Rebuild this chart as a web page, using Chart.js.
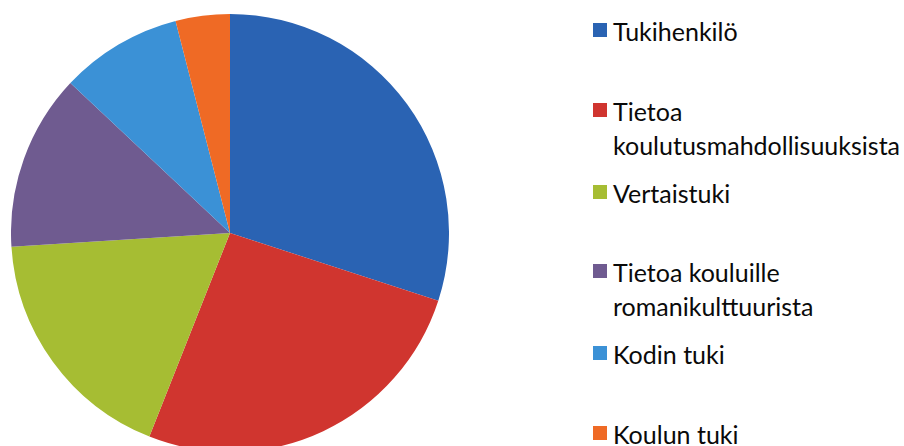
<!DOCTYPE html>
<html>
<head>
<meta charset="utf-8">
<script src="https://cdn.jsdelivr.net/npm/chart.js@4/dist/chart.umd.min.js"></script>
<style>
  html, body { margin: 0; padding: 0; background: #fff; overflow: hidden; }
  body { width: 904px; height: 446px; position: relative; font-family: Lato, "Open Sans", sans-serif; }
  #pie-wrap { position: absolute; left: 11px; top: 14px; width: 438px; height: 438px; }
  #legend { position: absolute; left: 593px; top: 0; }
  .item { position: absolute; left: 0; white-space: nowrap; }
  .box { position: absolute; left: 0; width: 14px; height: 14px; }
  .txt { position: absolute; left: 20px; font-size: 25px; line-height: 34px; color: #0a0a0a; }
</style>
</head>
<body>
<div id="pie-wrap"><canvas id="pie"></canvas></div>
<div id="legend"></div>
<script>
const labels = [
  'Tukihenkilö',
  ['Tietoa', 'koulutusmahdollisuuksista'],
  'Vertaistuki',
  ['Tietoa kouluille', 'romanikulttuurista'],
  'Kodin tuki',
  'Koulun tuki'
];
const values = [30, 26, 18, 13, 9, 4];
const colors = ['#2a63b3', '#d0352f', '#a6bd33', '#6f5b90', '#3b91d6', '#ef6a25'];

// top of each legend entry, px
const legendTops = [14, 94, 176, 255, 337, 417];

function renderLegend() {
  const legend = document.getElementById('legend');
  labels.forEach((lab, i) => {
    const lines = Array.isArray(lab) ? lab : [lab];
    const item = document.createElement('div');
    item.className = 'item';
    item.style.top = legendTops[i] + 'px';
    const box = document.createElement('div');
    box.className = 'box';
    box.style.background = colors[i];
    box.style.top = '9px';
    const txt = document.createElement('div');
    txt.className = 'txt';
    txt.innerHTML = lines.join('<br>');
    item.appendChild(box);
    item.appendChild(txt);
    legend.appendChild(item);
  });
}

document.addEventListener('DOMContentLoaded', function() {
  const ctx = document.getElementById('pie').getContext('2d');
  new Chart(ctx, {
    type: 'pie',
    data: {
      labels: labels.map(l => Array.isArray(l) ? l.join(' ') : l),
      datasets: [{
        data: values,
        backgroundColor: colors,
        borderWidth: 0
      }]
    },
    options: {
      responsive: true,
      maintainAspectRatio: false,
      animation: false,
      layout: { padding: 0 },
      plugins: {
        legend: { display: false },
        tooltip: { enabled: false }
      }
    }
  });
  renderLegend();
});
</script>
</body>
</html>
